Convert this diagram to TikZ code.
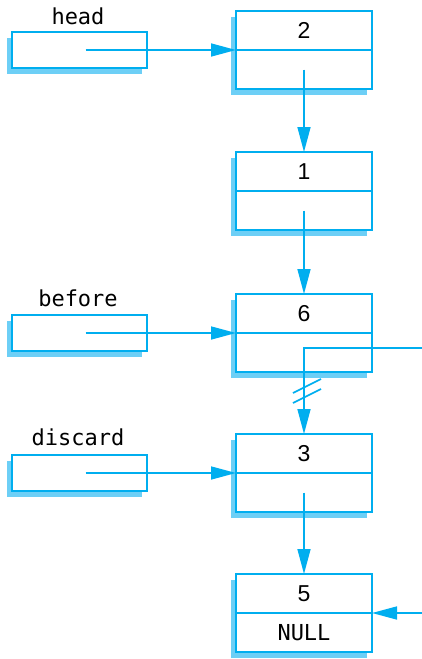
\documentclass[tikz,border=0pt]{standalone}
\usepackage{fontspec}
\setmainfont{Liberation Sans}
\setmonofont{DejaVu Sans Mono}
\newfontfamily\numfont{Liberation Sans}
\usetikzlibrary{positioning,arrows.meta,shadows}
\definecolor{linkblue}{RGB}{0,174,239}
\definecolor{shadeblue}{RGB}{109,207,246}

\begin{document}
\begin{tikzpicture}[
    x=0.5pt, y=-0.5pt,
    cell/.style={draw=linkblue, fill=white, line width=0.8pt, minimum width=68pt, minimum height=19.5pt,
        inner sep=0pt, outer sep=0pt, font=\numfont\fontsize{11.5}{13}\selectfont,
        drop shadow={shadow xshift=-2.5pt, shadow yshift=-3pt, fill=shadeblue, opacity=1}},
    ptr/.style={cell, minimum width=67.5pt, minimum height=18pt},
    lbl/.style={font=\ttfamily\fontsize{11}{13}\selectfont},
    wire/.style={draw=linkblue, line width=0.8pt},
    link/.style={wire, -{Triangle[length=12.5pt, width=6.5pt]}}
]
\useasboundingbox (0,0) rectangle (422,659);

% list cells
\node[cell] (n2) at (304,30.5) {2};
\node[cell, below=0pt of n2] (n2p) {};
\node[cell] (n1) at (304,171.5) {1};
\node[cell, below=0pt of n1] (n1p) {};
\node[cell] (n6) at (304,313.5) {6};
\node[cell, below=0pt of n6] (n6p) {};
\node[cell] (n3) at (304,453.5) {3};
\node[cell, below=0pt of n3] (n3p) {};
\node[cell] (n5) at (304,593.5) {5};
\node[cell, below=0pt of n5, font=\ttfamily\fontsize{11}{13}\selectfont] (n5p) {NULL};

% pointer variables
\node[ptr] (head) at (79.5,50) {};
\node[lbl] (headlbl) at (78,16) {head};
\node[ptr] (before) at (79.5,333) {};
\node[lbl] (beforelbl) at (78,298.5) {before};
\node[ptr] (discard) at (79.5,473) {};
\node[lbl] (discardlbl) at (78,437.5) {discard};

\coordinate (r6) at (422,348);
\coordinate (r5) at (422,613);
\coordinate (cut) at (304,391);

% links
\draw[link] ([xshift=3pt]head.center) -- (n2.south west);
\draw[link] ([xshift=3pt]before.center) -- (n6.south west);
\draw[link] ([xshift=3pt]discard.center) -- (n3.south west);
\draw[link] (n2p.center) -- (n1.north);
\draw[link] (n1p.center) -- (n6.north);
\draw[link] (r6) -| (n3.north);
\draw[wire] ([shift={(-11,2)}]cut) -- ++(28,-14);
\draw[wire] ([shift={(-11,12)}]cut) -- ++(28,-14);
\draw[link] (n3p.center) -- (n5.north);
\draw[link] (r5) -- (n5.south east);
\end{tikzpicture}
\end{document}
